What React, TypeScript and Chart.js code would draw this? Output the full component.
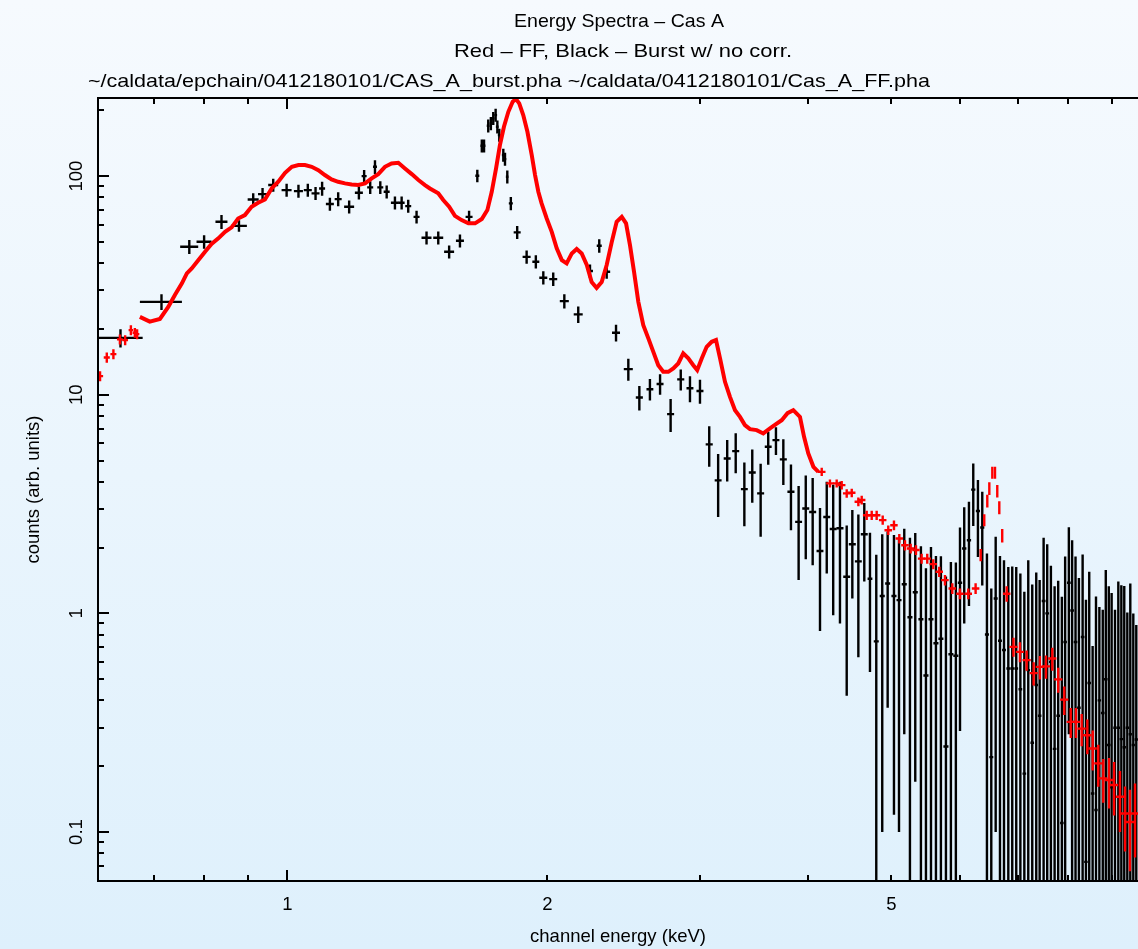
import React, { useEffect, useRef } from 'react';
import { Chart, registerables } from 'chart.js';

Chart.register(...registerables);

// ---------- axis ranges and tick labels ----------
const X_MIN = 0.6037;
const X_MAX = 9.65;
const Y_MIN = 0.0597;
const Y_MAX = 227.6;
const xLabelTicks = [1, 2, 5];
const xMinorTicks = [0.7, 0.8, 0.9, 2, 3, 4, 5, 6, 7, 8, 9];
const xMajorTicks = [1];
const yLabelTicks = [0.1, 1, 10, 100];
const yMajorTicks = [0.1, 1, 10, 100];
const yMinorTicks = [0.07, 0.08, 0.09, 0.2, 0.3, 0.4, 0.5, 0.6, 0.7, 0.8, 0.9, 2, 3, 4, 5, 6, 7, 8, 9, 20, 30, 40, 50, 60, 70, 80, 90, 200];

const titleLines = [
  'Energy Spectra \u2013 Cas A',
  'Red \u2013 FF, Black \u2013 Burst w/ no corr.',
  '~/caldata/epchain/0412180101/CAS_A_burst.pha ~/caldata/0412180101/Cas_A_FF.pha',
];
const xTitle = 'channel energy (keV)';
const yTitle = 'counts (arb. units)';

// ---------- Black: Burst w/ no corr. ----------
const blackX = [
  0.641, 0.715, 0.770, 0.801, 0.839, 0.879, 0.913, 0.936, 0.963, 0.998,
  1.030, 1.056, 1.078, 1.097, 1.120, 1.145, 1.179, 1.210, 1.227, 1.247,
  1.263, 1.281, 1.303, 1.332, 1.356, 1.380, 1.411, 1.449, 1.495, 1.539,
  1.584, 1.623, 1.659, 1.679, 1.689, 1.708, 1.720, 1.731, 1.742, 1.750,
  1.759, 1.778, 1.786, 1.797, 1.814, 1.845, 1.892, 1.939, 1.978, 2.031,
  2.092, 2.171, 2.240, 2.296, 2.342, 2.401, 2.481, 2.555, 2.628, 2.700,
  2.777, 2.853, 2.924, 3.003, 3.078, 3.152, 3.229, 3.303, 3.380, 3.452,
  3.530, 3.602, 3.677, 3.750, 3.827, 3.906, 3.981, 4.055, 4.135, 4.210,
  4.283, 4.361, 4.440, 4.507, 4.580, 4.653, 4.724, 4.804, 4.881, 4.952,
  5.036, 5.104, 5.176, 5.255, 5.330, 5.411, 5.484, 5.558, 5.632, 5.707,
  5.784, 5.861, 5.939, 6.005, 6.073, 6.150, 6.221, 6.299, 6.372, 6.452,
  6.527, 6.604, 6.680, 6.752, 6.830, 6.902, 6.976, 7.053, 7.128, 7.203,
  7.280, 7.358, 7.425, 7.504, 7.576, 7.651, 7.727, 7.801, 7.878, 7.947,
  8.026, 8.096, 8.170, 8.244, 8.326, 8.400, 8.474, 8.551, 8.628, 8.706,
  8.785, 8.856, 8.927, 8.995, 9.076, 9.157, 9.231, 9.303, 9.379, 9.454,
  9.530, 9.606,
];
const blackXErr = [
  0.039, 0.040, 0.0185, 0.016, 0.0134, 0.0187, 0.0134, 0.0112, 0.0128, 0.0133,
  0.0124, 0.0113, 0.0115, 0.0088, 0.0119, 0.0107, 0.0157, 0.0129, 0.0082, 0.0100,
  0.0067, 0.0102, 0.0104, 0.0142, 0.0108, 0.0110, 0.0113, 0.0193, 0.0199, 0.0205,
  0.0169, 0.0151, 0.0088, 0.0068, 0.0068, 0.0068, 0.0068, 0.0068, 0.0068, 0.0068,
  0.0068, 0.0068, 0.0068, 0.0068, 0.0097, 0.0172, 0.0202, 0.0180, 0.0211, 0.0217,
  0.0251, 0.0260, 0.0179, 0.0153, 0.0218, 0.0256, 0.0298, 0.024, 0.024, 0.025,
  0.026, 0.027, 0.027, 0.028, 0.029, 0.029, 0.030, 0.031, 0.031, 0.032,
  0.033, 0.033, 0.034, 0.035, 0.036, 0.036, 0.037, 0.038, 0.038, 0.039,
  0.040, 0.041, 0.041, 0.042, 0.042, 0.043, 0.030, 0.032, 0.033, 0.033,
  0.034, 0.034, 0.035, 0.035, 0.036, 0.036, 0.037, 0.037, 0.038, 0.038,
  0.039, 0.039, 0.040, 0.035, 0.035, 0.035, 0.035, 0.035, 0.035, 0.035,
  0.035, 0.035, 0.035, 0.035, 0.035, 0.035, 0.035, 0.035, 0.035, 0.035,
  0.035, 0.035, 0.035, 0.038, 0.038, 0.038, 0.038, 0.038, 0.038, 0.038,
  0.040, 0.040, 0.040, 0.040, 0.040, 0.040, 0.040, 0.040, 0.040, 0.040,
  0.042, 0.042, 0.042, 0.042, 0.042, 0.042, 0.042, 0.042, 0.042, 0.042,
  0.042, 0.042,
];
const blackY = [
  18.2, 26.6, 47.5, 50.1, 61.8, 59.2, 78.2, 82.7, 91.0, 86.3,
  85.4, 86.3, 83.4, 87.8, 74.5, 78.5, 72.4, 83.9, 100, 88.8,
  110.3, 88.8, 84.8, 75.5, 75.5, 72.9, 65.1, 52.2, 52.2, 45.1,
  50.6, 65.1, 100.3, 137.6, 137.6, 169.9, 174.2, 183.7, 190.1, 168.1,
  154.0, 124.8, 119.6, 99.3, 75.0, 55.3, 42.7, 40.6, 34.3, 33.8,
  26.8, 23.3, 36.8, 48.0, 36.5, 19.2, 13.1, 9.72, 10.6, 11.2,
  8.15, 11.75, 10.7, 10.4, 5.93, 4.06, 5.11, 5.52, 3.70, 4.41,
  3.54, 5.78, 6.20, 5.06, 3.60, 2.62, 3.02, 2.91, 1.93, 2.76,
  2.43, 2.45, 1.47, 2.07, 1.73, 2.30, 1.44, 0.745, 1.20, 1.37,
  1.20, 1.15, 1.36, 0.96, 1.25, 0.94, 0.52, 0.94, 0.73, 0.766,
  0.246, 0.65, 0.64, 1.38, 1.98, 2.16, 3.68, 2.94, 2.47, 0.80,
  0.22, 1.17, 0.75, 0.68, 0.56, 0.56, 0.56, 0.45, 0.185, 0.55,
  0.256, 0.47, 0.34, 1.14, 1.00, 0.60, 0.24, 0.34, 0.11, 0.74,
  1.38, 1.03, 0.74, 0.37, 0.78, 0.073, 0.48, 0.15, 0.126, 0.40,
  0.35, 0.50, 0.25, 0.16, 0.30, 0.30, 0.266, 0.244, 0.30, 0.28,
  0.25, 0.265,
];
const blackYErr = [
  1.75, 2.2, 3.5, 3.6, 4.5, 3.6, 5.3, 5.6, 6.2, 5.9,
  5.8, 5.9, 5.7, 6.5, 5.1, 5.8, 5.0, 5.7, 6.5, 6.0,
  8.0, 6.0, 5.8, 5.1, 5.1, 5.0, 4.4, 3.6, 3.6, 3.1,
  3.5, 4.4, 6.5, 9.5, 9.5, 11.5, 12.0, 12.5, 13.0, 11.5,
  10.5, 8.5, 8.2, 6.8, 5.2, 3.8, 3.0, 2.8, 2.4, 2.4,
  2.0, 2.0, 2.6, 3.4, 2.6, 1.7, 1.5, 1.25, 1.2, 1.2,
  1.4, 1.3, 1.45, 1.3, 1.25, 1.3, 1.1, 1.15, 1.2, 1.2,
  1.3, 1.0, 0.9, 1.2, 1.2, 1.2, 1.25, 1.25, 1.1, 1.24,
  1.45, 1.55, 1.05, 0.9, 1.1, 0.9, 0.9, 1.11, 1.10, 1.0,
  1.08, 1.05, 1.08, 1.26, 1.08, 1.09, 1.09, 1.07, 1.1, 1.06,
  1.23, 1.07, 1.07, 1.09, 1.08, 1.08, 1.17, 1.13, 1.13, 1.08,
  1.08, 1.07, 1.08, 1.07, 1.07, 1.08, 1.07, 1.07, 1.07, 1.2,
  1.1, 1.07, 1.08, 1.08, 1.07, 1.05, 1.09, 1.07, 1.08, 1.08,
  1.1, 1.13, 1.08, 1.08, 1.08, 1.08, 1.07, 0.56, 1.07, 0.67,
  0.69, 1.08, 1.08, 1.08, 0.74, 1.1, 1.08, 1.09, 0.71, 1.09,
  0.75, 0.62,
];

// ---------- Red: FF (dense channels, drawn as a thick trace) ----------
const redLineX = [
  0.675, 0.693, 0.712, 0.728, 0.741, 0.755, 0.765, 0.775, 0.789, 0.803,
  0.817, 0.832, 0.847, 0.862, 0.877, 0.893, 0.909, 0.925, 0.942, 0.959,
  0.976, 0.994, 1.012, 1.030, 1.048, 1.067, 1.086, 1.105, 1.125, 1.145,
  1.166, 1.187, 1.208, 1.230, 1.252, 1.274, 1.297, 1.320, 1.344, 1.368,
  1.393, 1.418, 1.443, 1.462, 1.495, 1.515, 1.539, 1.563, 1.591, 1.620,
  1.649, 1.679, 1.704, 1.724, 1.744, 1.762, 1.781, 1.802, 1.823, 1.839,
  1.855, 1.875, 1.896, 1.918, 1.935, 1.952, 1.969, 1.996, 2.023, 2.050,
  2.078, 2.105, 2.134, 2.162, 2.191, 2.221, 2.250, 2.280, 2.311, 2.342,
  2.374, 2.405, 2.438, 2.466, 2.492, 2.519, 2.548, 2.582, 2.617, 2.652,
  2.687, 2.723, 2.760, 2.797, 2.834, 2.872, 2.911, 2.950, 2.981, 3.017,
  3.057, 3.098, 3.134, 3.168, 3.210, 3.253, 3.297, 3.341, 3.385, 3.431,
  3.493, 3.555, 3.619, 3.677, 3.734, 3.792, 3.851, 3.920, 3.963, 4.008,
  4.063, 4.117,
];
const redLineY = [
  22.7, 21.6, 22.2, 25.2, 28.6, 32.3, 35.9, 37.8, 41.3, 45.1,
  48.9, 51.9, 55.6, 58.3, 64.0, 66.3, 72.4, 75.5, 78.2, 87.8,
  94.2, 103.5, 110.3, 112.3, 112.3, 110.3, 106.5, 101.1, 96.6, 94.2,
  92.6, 91.6, 91.0, 92.6, 97.6, 102.1, 110.3, 114.3, 115.0, 108.4,
  102.1, 95.9, 91.0, 87.8, 83.4, 77.7, 72.4, 65.8, 62.9, 60.8,
  60.8, 63.6, 69.9, 84.8, 108.4, 138.6, 168.1, 196.8, 218.8, 225.1,
  215.0, 190.1, 159.5, 124.8, 101.1, 84.8, 75.0, 64.0, 55.6, 46.7,
  41.3, 39.9, 44.3, 46.4, 44.3, 39.2, 32.8, 30.8, 32.8, 39.2,
  50.0, 61.8, 65.1, 60.8, 48.3, 36.5, 26.6, 20.8, 18.1, 15.7,
  13.65, 12.73, 12.73, 13.19, 13.9, 15.45, 14.66, 13.65, 12.96, 14.66,
  16.56, 17.46, 17.78, 14.66, 11.46, 9.78, 8.50, 7.92, 7.26, 6.96,
  6.89, 6.65, 7.01, 7.33, 7.65, 8.24, 8.50, 7.92, 6.42, 5.39,
  4.68, 4.44,
];

// ---------- Red: FF (separate channels with error bars) ----------
const redPtX = [
  0.607, 0.618, 0.629, 0.640, 0.649, 0.659, 0.666, 0.670,
  4.154, 4.246, 4.323, 4.381, 4.440, 4.500, 4.580, 4.621, 4.683, 4.746,
  4.809, 4.887, 4.960, 5.036, 5.108, 5.186, 5.265, 5.340, 5.421, 5.503,
  5.592, 5.682, 5.769, 5.883, 6.004, 6.139, 6.260, 6.345, 6.406, 6.458,
  6.493, 6.545, 6.592, 6.632, 6.668, 6.720, 6.801, 6.925, 7.045, 7.172,
  7.307, 7.430, 7.551, 7.680, 7.802, 7.929, 8.066, 8.180, 8.305, 8.431,
  8.553, 8.681, 8.798, 8.933, 9.054, 9.197, 9.322, 9.445, 9.573,
];
const redPtXErr = [
  0.005, 0.005, 0.005, 0.005, 0.005, 0.004, 0.004, 0.004,
  0.042, 0.042, 0.043, 0.044, 0.044, 0.045, 0.046, 0.046, 0.047, 0.047,
  0.048, 0.049, 0.050, 0.050, 0.051, 0.052, 0.053, 0.053, 0.054, 0.055,
  0.056, 0.057, 0.058, 0.059, 0.060, 0.061, 0.063, 0.018, 0.018, 0.018,
  0.018, 0.018, 0.018, 0.018, 0.018, 0.018, 0.068, 0.076, 0.077, 0.079,
  0.080, 0.082, 0.083, 0.084, 0.086, 0.087, 0.089, 0.090, 0.091, 0.093,
  0.094, 0.095, 0.097, 0.098, 0.100, 0.101, 0.103, 0.104, 0.105,
];
const redPtY = [
  12.17, 14.81, 15.34, 17.91, 17.78, 19.75, 19.2, 18.94,
  4.44, 3.93, 3.93, 3.86, 3.54, 3.56, 3.24, 3.30, 2.81, 2.81,
  2.81, 2.67, 2.40, 2.53, 2.20, 2.05, 1.98, 1.95, 1.78, 1.78,
  1.68, 1.55, 1.42, 1.30, 1.23, 1.23, 1.30, 1.85, 2.67, 3.27,
  3.73, 4.41, 4.41, 3.63, 3.05, 2.27, 1.23, 0.703, 0.667, 0.611,
  0.533, 0.569, 0.572, 0.622, 0.499, 0.403, 0.319, 0.319, 0.297, 0.277,
  0.241, 0.206, 0.176, 0.173, 0.164, 0.145, 0.1215, 0.1112, 0.1215,
];
const redPtYErr = [
  0.65, 0.8, 0.8, 0.95, 0.95, 1.05, 1.0, 1.0,
  0.19, 0.17, 0.17, 0.17, 0.16, 0.16, 0.15, 0.15, 0.14, 0.14,
  0.14, 0.13, 0.12, 0.13, 0.11, 0.11, 0.10, 0.10, 0.095, 0.095,
  0.09, 0.085, 0.08, 0.075, 0.07, 0.07, 0.075, 0.12, 0.17, 0.22,
  0.25, 0.28, 0.28, 0.24, 0.21, 0.16, 0.10, 0.07, 0.07, 0.065,
  0.065, 0.07, 0.07, 0.075, 0.065, 0.06, 0.05, 0.05, 0.05, 0.05,
  0.05, 0.045, 0.04, 0.045, 0.045, 0.045, 0.04, 0.045, 0.045,
];

const FONT = "'Liberation Sans', Arial, Helvetica, sans-serif";

const toPoints = (xs: number[], ys: number[]) => xs.map((x, i) => ({ x, y: ys[i] }));

const backgroundPlugin = {
  id: 'bgGradient',
  beforeDraw(chart: any) {
    const { ctx, width, height } = chart;
    const g = ctx.createLinearGradient(0, 0, 0, height);
    g.addColorStop(0, 'rgb(246,250,254)');
    g.addColorStop(1, 'rgb(222,240,252)');
    ctx.save();
    ctx.fillStyle = g;
    ctx.fillRect(0, 0, width, height);
    ctx.restore();
  },
};

function drawErrorBars(chart: any, layer: string) {
  const { ctx, chartArea, scales } = chart;
  const xs = scales.x;
  const ys = scales.y;
  ctx.save();
  ctx.beginPath();
  ctx.rect(chartArea.left, chartArea.top, chartArea.right - chartArea.left, chartArea.bottom - chartArea.top);
  ctx.clip();
  chart.data.datasets.forEach((ds: any, i: number) => {
    const eb = ds.errorBars;
    if (!eb || eb.layer !== layer || !chart.isDatasetVisible(i)) return;
    ctx.strokeStyle = eb.color;
    ctx.lineWidth = eb.width;
    ctx.lineCap = 'butt';
    ds.data.forEach((p: any, j: number) => {
      const xe = eb.xErr[j];
      const ye = eb.yErr[j];
      const px = xs.getPixelForValue(p.x);
      const py = ys.getPixelForValue(p.y);
      const x0 = xs.getPixelForValue(p.x - xe);
      const x1 = xs.getPixelForValue(p.x + xe);
      const lo = p.y - ye;
      const y0 = lo > 0 ? ys.getPixelForValue(lo) : chartArea.bottom + 10;
      const y1 = ys.getPixelForValue(p.y + ye);
      ctx.beginPath();
      ctx.moveTo(x0, py);
      ctx.lineTo(x1, py);
      ctx.moveTo(px, y0);
      ctx.lineTo(px, y1);
      ctx.stroke();
    });
  });
  ctx.restore();
}

const errorBarPlugin = {
  id: 'errorBars',
  beforeDatasetsDraw(chart: any) {
    drawErrorBars(chart, 'below');
  },
  afterDatasetsDraw(chart: any) {
    drawErrorBars(chart, 'above');
  },
};

// text drawn with a horizontal scale so that it spans a target width
function fitText(ctx: CanvasRenderingContext2D, text: string, cx: number, base: number, width: number) {
  const w = ctx.measureText(text).width;
  const s = width / w;
  ctx.save();
  ctx.translate(cx, base);
  ctx.scale(s, 1);
  ctx.textAlign = 'center';
  ctx.fillText(text, 0, 0);
  ctx.restore();
}

const titleCenters = [619, 623, 509];
const titleWidths = [210, 338, 842];
const titleBaselines = [27, 57, 87];

const framePlugin = {
  id: 'frameAndText',
  afterDraw(chart: any) {
    const { ctx, chartArea, scales } = chart;
    const xs = scales.x;
    const ys = scales.y;
    const { left, right, top, bottom } = chartArea;
    ctx.save();
    ctx.strokeStyle = '#000';
    ctx.lineWidth = 2;
    ctx.lineCap = 'square';
    ctx.beginPath();
    ctx.moveTo(right + 2, top);
    ctx.lineTo(left, top);
    ctx.lineTo(left, bottom);
    ctx.lineTo(right + 2, bottom);
    ctx.stroke();

    ctx.lineCap = 'butt';
    const MAJ = 11;
    const MIN = 6;
    ctx.beginPath();
    const xTick = (v: number, len: number) => {
      const px = Math.round(xs.getPixelForValue(v));
      ctx.moveTo(px, bottom);
      ctx.lineTo(px, bottom - len);
      ctx.moveTo(px, top);
      ctx.lineTo(px, top + len);
    };
    xMajorTicks.forEach((v) => xTick(v, MAJ));
    xMinorTicks.forEach((v) => xTick(v, MIN));
    const yTick = (v: number, len: number) => {
      const py = Math.round(ys.getPixelForValue(v));
      ctx.moveTo(left, py);
      ctx.lineTo(left + len, py);
    };
    yMajorTicks.forEach((v) => yTick(v, MAJ));
    yMinorTicks.forEach((v) => yTick(v, MIN));
    ctx.stroke();

    ctx.fillStyle = '#000';
    ctx.font = `18.5px ${FONT}`;
    ctx.textAlign = 'center';
    ctx.textBaseline = 'alphabetic';
    xLabelTicks.forEach((v) => {
      ctx.fillText(String(v), xs.getPixelForValue(v), 910);
    });
    yLabelTicks.forEach((v) => {
      ctx.save();
      ctx.translate(82, ys.getPixelForValue(v));
      ctx.rotate(-Math.PI / 2);
      ctx.fillText(String(v), 0, 0);
      ctx.restore();
    });
    const cx = (left + right) / 2;
    ctx.fillText(xTitle, cx, 942);
    ctx.save();
    ctx.translate(39, (top + bottom) / 2);
    ctx.rotate(-Math.PI / 2);
    ctx.fillText(yTitle, 0, 0);
    ctx.restore();

    ctx.font = `19px ${FONT}`;
    titleLines.forEach((t, i) => fitText(ctx, t, titleCenters[i], titleBaselines[i], titleWidths[i]));
    ctx.restore();
  },
};

export default function App() {
  const canvasRef = useRef<HTMLCanvasElement>(null);

  useEffect(() => {
    const canvas = canvasRef.current;
    if (!canvas) return;
    const chart = new Chart(canvas, {
      type: 'scatter',
      data: {
        datasets: [
          {
            type: 'line',
            label: 'FF',
            data: toPoints(redLineX, redLineY),
            borderColor: 'rgb(255,0,0)',
            borderWidth: 4,
            pointRadius: 0,
            tension: 0,
            fill: false,
          } as any,
          {
            label: 'FF channels',
            data: toPoints(redPtX, redPtY),
            pointRadius: 0,
            showLine: false,
            errorBars: { xErr: redPtXErr, yErr: redPtYErr, color: 'rgb(255,0,0)', width: 2.4, layer: 'above' },
          } as any,
          {
            label: 'Burst w/ no corr.',
            data: toPoints(blackX, blackY),
            pointRadius: 0,
            showLine: false,
            errorBars: { xErr: blackXErr, yErr: blackYErr, color: '#000', width: 2.4, layer: 'below' },
          } as any,
        ],
      },
      options: {
        responsive: false,
        animation: false,
        events: [],
        layout: { padding: { top: 98, left: 0, right: 0, bottom: 0 } },
        plugins: {
          legend: { display: false },
          tooltip: { enabled: false },
          title: { display: false },
        },
        scales: {
          x: {
            type: 'logarithmic',
            min: X_MIN,
            max: X_MAX,
            bounds: 'data',
            ticks: { display: false },
            grid: { display: false },
            border: { display: false },
            afterFit: (s: any) => {
              s.height = 68;
            },
          },
          y: {
            type: 'logarithmic',
            min: Y_MIN,
            max: Y_MAX,
            bounds: 'data',
            ticks: { display: false },
            grid: { display: false },
            border: { display: false },
            afterFit: (s: any) => {
              s.width = 98;
            },
          },
        },
      },
      plugins: [backgroundPlugin, errorBarPlugin, framePlugin],
    } as any);
    return () => chart.destroy();
  }, []);

  return (
    <div style={{ position: 'absolute', left: 0, top: 0, width: 1138, height: 949 }}>
      <canvas ref={canvasRef} width={1138} height={949} style={{ display: 'block', width: 1138, height: 949 }} />
    </div>
  );
}
